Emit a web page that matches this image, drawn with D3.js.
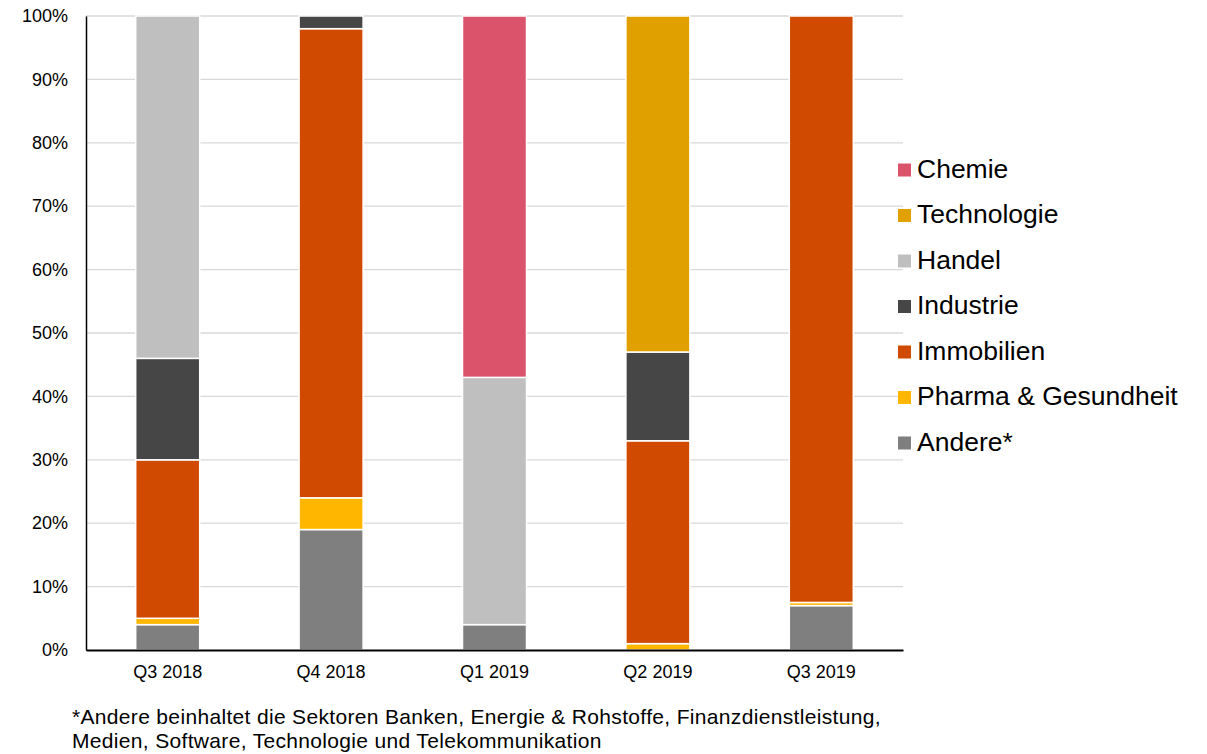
<!DOCTYPE html>
<html><head><meta charset="utf-8">
<script src="https://cdn.jsdelivr.net/npm/d3@7"></script>
<style>body{margin:0;background:#fff;font-family:"Liberation Sans",Arial,sans-serif;}</style>
</head><body>
<svg id="chart" width="1207" height="754"></svg>
<script>
const categories = ["Q3 2018","Q4 2018","Q1 2019","Q2 2019","Q3 2019"];
const seriesNames = ["Andere*","Pharma & Gesundheit","Immobilien","Industrie","Handel","Technologie","Chemie"];
const andere      = [4, 19, 4, 0, 7];
const pharma      = [1, 5, 0, 1, 0.5];
const immobilien  = [25, 74, 0, 32, 92.5];
const industrie   = [16, 2, 0, 14, 0];
const handel      = [54, 0, 39, 0, 0];
const technologie = [0, 0, 0, 53, 0];
const chemie      = [0, 0, 57, 0, 0];
const colors = ["#7F7F7F","#FFB600","#D04A02","#464646","#BFBFBF","#E0A100","#DB536A"];
const yTicks = [0,10,20,30,40,50,60,70,80,90,100];
const footnote = ["*Andere beinhaltet die Sektoren Banken, Energie & Rohstoffe, Finanzdienstleistung,",
                  "Medien, Software, Technologie und Telekommunikation"];

const seriesValues = [andere, pharma, immobilien, industrie, handel, technologie, chemie];
const rows = categories.map((c,i)=>{const r={cat:c}; seriesNames.forEach((s,j)=>r[s]=seriesValues[j][i]); return r;});
const stacked = d3.stack().keys(seriesNames)(rows);

const FF = "'Liberation Sans', Arial, sans-serif";
const svg = d3.select("#chart");
const L=86, R=903, T=16, B=650;
const x = d3.scaleBand().domain(categories).range([L,R]).padding(0);
const y = d3.scaleLinear().domain([0,100]).range([B,T]);
const barW = 64;

// gridlines
svg.append("g").selectAll("line").data(yTicks.filter(t=>t>0)).join("line")
  .attr("x1",L).attr("x2",R).attr("y1",d=>y(d)).attr("y2",d=>y(d))
  .attr("stroke","#d9d9d9").attr("stroke-width",1.3);

// bars
svg.append("g").selectAll("g").data(stacked).join("g")
  .attr("fill",(d,i)=>colors[i])
  .selectAll("rect").data(d=>d.filter(p=>p[1]-p[0]>0)).join("rect")
  .attr("x",d=>x(d.data.cat)+x.bandwidth()/2-barW/2)
  .attr("width",barW)
  .attr("y",d=>y(d[1]))
  .attr("height",d=>y(d[0])-y(d[1]))
  .attr("stroke","#fff").attr("stroke-width",1.5);

// y axis
const yAxis = svg.append("g").attr("transform",`translate(${L},0)`)
  .call(d3.axisLeft(y).tickValues(yTicks).tickFormat(d=>d+"%").tickSize(0).tickPadding(18));
yAxis.select(".domain").attr("stroke","#000").attr("stroke-width",1.5);
yAxis.selectAll("text").attr("font-size",18).attr("fill","#000").attr("font-family",FF);

// x axis
const xAxis = svg.append("g").attr("transform",`translate(0,${B})`)
  .call(d3.axisBottom(x).tickSize(0).tickPadding(15));
xAxis.select(".domain").attr("stroke","#000").attr("stroke-width",2);
xAxis.selectAll("text").attr("font-size",18).attr("fill","#000").attr("font-family",FF);

// legend
const leg = svg.append("g");
const legOrder = seriesNames.map((s,i)=>({s,c:colors[i]})).reverse();
legOrder.forEach((d,i)=>{
  const yy = 168 + i*45.5;
  leg.append("rect").attr("x",898).attr("y",yy-4.5).attr("width",13).attr("height",13).attr("fill",d.c);
  leg.append("text").attr("x",917).attr("y",yy+9.5).text(d.s)
    .attr("font-size",26.5).attr("fill","#000").attr("font-family",FF);
});

// footnote
footnote.forEach((t,i)=>{
  svg.append("text").attr("x",72).attr("y",723.5+i*24.5).text(t)
    .attr("font-size",21).attr("letter-spacing",0.33).attr("fill","#000").attr("font-family",FF);
});
</script>
</body></html>
